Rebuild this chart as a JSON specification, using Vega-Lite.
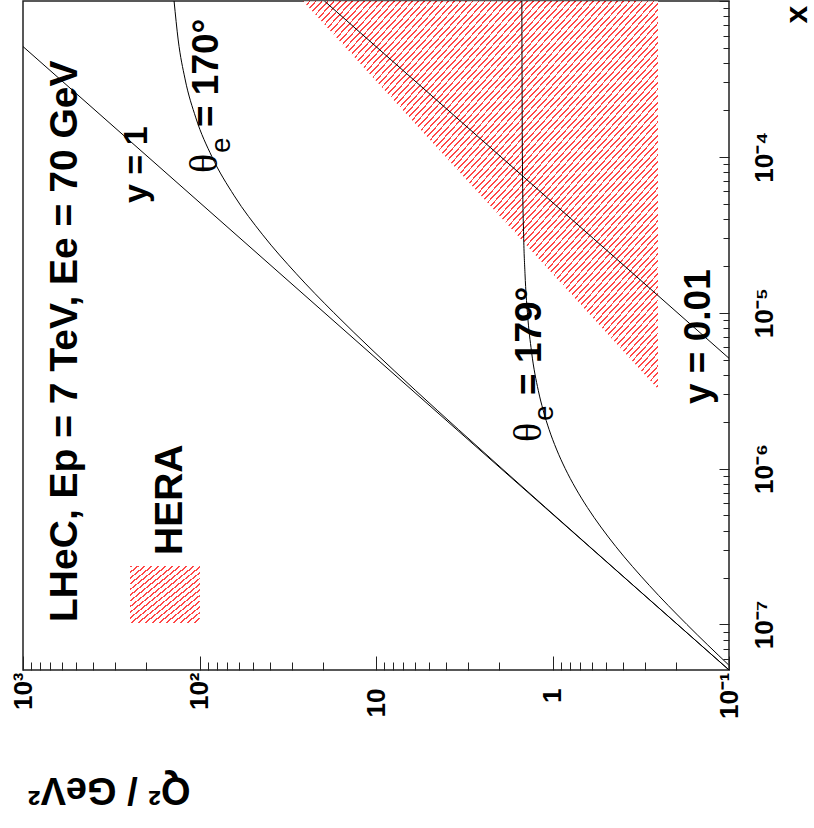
{
"$schema":"https://vega.github.io/schema/vega-lite/v6.json",
"width":706,"height":669,"autosize":"none",
"padding":{"left":23,"top":1,"right":85,"bottom":158},
"background":"white",
"config":{"view":{"stroke":"#222","strokeWidth":1.5}},
"encoding":{
 "x":{"field":"Q2","type":"quantitative","scale":{"type":"log","domain":[0.1,1000],"reverse":true,"nice":false},
  "axis":{"orient":"bottom","values":[0.1,0.2,0.3,0.4,0.5,0.6,0.7,0.8,0.9,1,2,3,4,5,6,7,8,9,10,20,30,40,50,60,70,80,90,100,200,300,400,500,600,700,800,900,1000],
   "domain":false,"grid":false,"tickColor":"#222","tickWidth":1,
   "tickSize":{"condition":{"test":"abs(log(datum.value)/LN10-round(log(datum.value)/LN10))<0.001","value":-14},"value":-8},
   "labelExpr":"datum.value==1000?'10³':datum.value==100?'10²':datum.value==10?'10':datum.value==1?'1':datum.value==0.1?'10⁻¹':''",
   "labelAngle":270,"labelAlign":"right","labelBaseline":"middle",
   "labelPadding":{"condition":{"test":"datum.value==1||datum.value==10","value":32},"value":16},
   "labelFont":"Liberation Sans","labelFontWeight":"bold","labelFontSize":26,"labelColor":"black",
   "labelOverlap":false,"labelFlush":false,"labelBound":false,
   "title":"Q² / GeV²","titleAngle":180,"titleX":167,"titleY":107,"titleAlign":"left","titleBaseline":"alphabetic",
   "titleFont":"Liberation Sans","titleFontWeight":"bold","titleFontSize":38,"titleColor":"black"}},
 "y":{"field":"x","type":"quantitative","scale":{"type":"log","domain":[5.1e-8,0.001],"nice":false},
  "axis":{"orient":"right","values":[6e-8,7e-8,8e-8,9e-8,1e-7,2e-7,3e-7,4e-7,5e-7,6e-7,7e-7,8e-7,9e-7,1e-6,2e-6,3e-6,4e-6,5e-6,6e-6,7e-6,8e-6,9e-6,1e-5,2e-5,3e-5,4e-5,5e-5,6e-5,7e-5,8e-5,9e-5,1e-4,2e-4,3e-4,4e-4,5e-4,6e-4,7e-4,8e-4,9e-4,0.001],
   "domain":false,"grid":false,"tickColor":"#222","tickWidth":1,
   "tickSize":{"condition":{"test":"abs(log(datum.value)/LN10-round(log(datum.value)/LN10))<0.001","value":-10},"value":-6},
   "labelExpr":"datum.value==1e-4?'10⁻⁴':datum.value==1e-5?'10⁻⁵':datum.value==1e-6?'10⁻⁶':datum.value==1e-7?'10⁻⁷':''",
   "labelAngle":270,"labelAlign":"center","labelBaseline":"alphabetic","labelPadding":53,
   "labelFont":"Liberation Sans","labelFontWeight":"bold","labelFontSize":26,"labelColor":"black",
   "labelOverlap":false,"labelFlush":false,"labelBound":false,
   "title":"x","titleAngle":270,"titleX":84,"titleY":22,"titleAlign":"left","titleBaseline":"bottom",
   "titleFont":"Liberation Sans","titleFontWeight":"bold","titleFontSize":32,"titleColor":"black"}}
},
"layer":[
 {"data":{"values":[{"Q2":25.92,"x":0.001,"x2":0.001},{"Q2":0.2525,"x":3.24e-6,"x2":0.001}]},
  "mark":{"type":"area","opacity":0.72,"fill":{"gradient":"linear","x1":0,"y1":0,"x2":1,"y2":1,"stops":[
{"offset":0,"color":"#f00"},{"offset":0.0025,"color":"#f00"},{"offset":0.0025,"color":"#fff"},{"offset":0.0085,"color":"#fff"},
{"offset":0.0085,"color":"#f00"},{"offset":0.011,"color":"#f00"},{"offset":0.011,"color":"#fff"},{"offset":0.017,"color":"#fff"},
{"offset":0.017,"color":"#f00"},{"offset":0.0195,"color":"#f00"},{"offset":0.0195,"color":"#fff"},{"offset":0.0255,"color":"#fff"},
{"offset":0.0255,"color":"#f00"},{"offset":0.028,"color":"#f00"},{"offset":0.028,"color":"#fff"},{"offset":0.034,"color":"#fff"},
{"offset":0.034,"color":"#f00"},{"offset":0.0365,"color":"#f00"},{"offset":0.0365,"color":"#fff"},{"offset":0.0425,"color":"#fff"},
{"offset":0.0425,"color":"#f00"},{"offset":0.045,"color":"#f00"},{"offset":0.045,"color":"#fff"},{"offset":0.051,"color":"#fff"},
{"offset":0.051,"color":"#f00"},{"offset":0.0535,"color":"#f00"},{"offset":0.0535,"color":"#fff"},{"offset":0.0595,"color":"#fff"},
{"offset":0.0595,"color":"#f00"},{"offset":0.062,"color":"#f00"},{"offset":0.062,"color":"#fff"},{"offset":0.068,"color":"#fff"},
{"offset":0.068,"color":"#f00"},{"offset":0.0705,"color":"#f00"},{"offset":0.0705,"color":"#fff"},{"offset":0.0765,"color":"#fff"},
{"offset":0.0765,"color":"#f00"},{"offset":0.079,"color":"#f00"},{"offset":0.079,"color":"#fff"},{"offset":0.085,"color":"#fff"},
{"offset":0.085,"color":"#f00"},{"offset":0.0875,"color":"#f00"},{"offset":0.0875,"color":"#fff"},{"offset":0.0935,"color":"#fff"},
{"offset":0.0935,"color":"#f00"},{"offset":0.096,"color":"#f00"},{"offset":0.096,"color":"#fff"},{"offset":0.102,"color":"#fff"},
{"offset":0.102,"color":"#f00"},{"offset":0.1045,"color":"#f00"},{"offset":0.1045,"color":"#fff"},{"offset":0.1105,"color":"#fff"},
{"offset":0.1105,"color":"#f00"},{"offset":0.113,"color":"#f00"},{"offset":0.113,"color":"#fff"},{"offset":0.119,"color":"#fff"},
{"offset":0.119,"color":"#f00"},{"offset":0.1215,"color":"#f00"},{"offset":0.1215,"color":"#fff"},{"offset":0.1275,"color":"#fff"},
{"offset":0.1275,"color":"#f00"},{"offset":0.13,"color":"#f00"},{"offset":0.13,"color":"#fff"},{"offset":0.136,"color":"#fff"},
{"offset":0.136,"color":"#f00"},{"offset":0.1385,"color":"#f00"},{"offset":0.1385,"color":"#fff"},{"offset":0.1445,"color":"#fff"},
{"offset":0.1445,"color":"#f00"},{"offset":0.147,"color":"#f00"},{"offset":0.147,"color":"#fff"},{"offset":0.153,"color":"#fff"},
{"offset":0.153,"color":"#f00"},{"offset":0.1555,"color":"#f00"},{"offset":0.1555,"color":"#fff"},{"offset":0.1615,"color":"#fff"},
{"offset":0.1615,"color":"#f00"},{"offset":0.164,"color":"#f00"},{"offset":0.164,"color":"#fff"},{"offset":0.17,"color":"#fff"},
{"offset":0.17,"color":"#f00"},{"offset":0.1725,"color":"#f00"},{"offset":0.1725,"color":"#fff"},{"offset":0.1785,"color":"#fff"},
{"offset":0.1785,"color":"#f00"},{"offset":0.181,"color":"#f00"},{"offset":0.181,"color":"#fff"},{"offset":0.187,"color":"#fff"},
{"offset":0.187,"color":"#f00"},{"offset":0.1895,"color":"#f00"},{"offset":0.1895,"color":"#fff"},{"offset":0.1955,"color":"#fff"},
{"offset":0.1955,"color":"#f00"},{"offset":0.198,"color":"#f00"},{"offset":0.198,"color":"#fff"},{"offset":0.204,"color":"#fff"},
{"offset":0.204,"color":"#f00"},{"offset":0.2065,"color":"#f00"},{"offset":0.2065,"color":"#fff"},{"offset":0.2125,"color":"#fff"},
{"offset":0.2125,"color":"#f00"},{"offset":0.215,"color":"#f00"},{"offset":0.215,"color":"#fff"},{"offset":0.221,"color":"#fff"},
{"offset":0.221,"color":"#f00"},{"offset":0.2235,"color":"#f00"},{"offset":0.2235,"color":"#fff"},{"offset":0.2295,"color":"#fff"},
{"offset":0.2295,"color":"#f00"},{"offset":0.232,"color":"#f00"},{"offset":0.232,"color":"#fff"},{"offset":0.238,"color":"#fff"},
{"offset":0.238,"color":"#f00"},{"offset":0.2405,"color":"#f00"},{"offset":0.2405,"color":"#fff"},{"offset":0.2465,"color":"#fff"},
{"offset":0.2465,"color":"#f00"},{"offset":0.249,"color":"#f00"},{"offset":0.249,"color":"#fff"},{"offset":0.255,"color":"#fff"},
{"offset":0.255,"color":"#f00"},{"offset":0.2575,"color":"#f00"},{"offset":0.2575,"color":"#fff"},{"offset":0.2635,"color":"#fff"},
{"offset":0.2635,"color":"#f00"},{"offset":0.266,"color":"#f00"},{"offset":0.266,"color":"#fff"},{"offset":0.272,"color":"#fff"},
{"offset":0.272,"color":"#f00"},{"offset":0.2745,"color":"#f00"},{"offset":0.2745,"color":"#fff"},{"offset":0.2805,"color":"#fff"},
{"offset":0.2805,"color":"#f00"},{"offset":0.283,"color":"#f00"},{"offset":0.283,"color":"#fff"},{"offset":0.289,"color":"#fff"},
{"offset":0.289,"color":"#f00"},{"offset":0.2915,"color":"#f00"},{"offset":0.2915,"color":"#fff"},{"offset":0.2975,"color":"#fff"},
{"offset":0.2975,"color":"#f00"},{"offset":0.3,"color":"#f00"},{"offset":0.3,"color":"#fff"},{"offset":0.306,"color":"#fff"},
{"offset":0.306,"color":"#f00"},{"offset":0.3085,"color":"#f00"},{"offset":0.3085,"color":"#fff"},{"offset":0.3145,"color":"#fff"},
{"offset":0.3145,"color":"#f00"},{"offset":0.317,"color":"#f00"},{"offset":0.317,"color":"#fff"},{"offset":0.323,"color":"#fff"},
{"offset":0.323,"color":"#f00"},{"offset":0.3255,"color":"#f00"},{"offset":0.3255,"color":"#fff"},{"offset":0.3315,"color":"#fff"},
{"offset":0.3315,"color":"#f00"},{"offset":0.334,"color":"#f00"},{"offset":0.334,"color":"#fff"},{"offset":0.34,"color":"#fff"},
{"offset":0.34,"color":"#f00"},{"offset":0.3425,"color":"#f00"},{"offset":0.3425,"color":"#fff"},{"offset":0.3485,"color":"#fff"},
{"offset":0.3485,"color":"#f00"},{"offset":0.351,"color":"#f00"},{"offset":0.351,"color":"#fff"},{"offset":0.357,"color":"#fff"},
{"offset":0.357,"color":"#f00"},{"offset":0.3595,"color":"#f00"},{"offset":0.3595,"color":"#fff"},{"offset":0.3655,"color":"#fff"},
{"offset":0.3655,"color":"#f00"},{"offset":0.368,"color":"#f00"},{"offset":0.368,"color":"#fff"},{"offset":0.374,"color":"#fff"},
{"offset":0.374,"color":"#f00"},{"offset":0.3765,"color":"#f00"},{"offset":0.3765,"color":"#fff"},{"offset":0.3825,"color":"#fff"},
{"offset":0.3825,"color":"#f00"},{"offset":0.385,"color":"#f00"},{"offset":0.385,"color":"#fff"},{"offset":0.391,"color":"#fff"},
{"offset":0.391,"color":"#f00"},{"offset":0.3935,"color":"#f00"},{"offset":0.3935,"color":"#fff"},{"offset":0.3995,"color":"#fff"},
{"offset":0.3995,"color":"#f00"},{"offset":0.402,"color":"#f00"},{"offset":0.402,"color":"#fff"},{"offset":0.408,"color":"#fff"},
{"offset":0.408,"color":"#f00"},{"offset":0.4105,"color":"#f00"},{"offset":0.4105,"color":"#fff"},{"offset":0.4165,"color":"#fff"},
{"offset":0.4165,"color":"#f00"},{"offset":0.419,"color":"#f00"},{"offset":0.419,"color":"#fff"},{"offset":0.425,"color":"#fff"},
{"offset":0.425,"color":"#f00"},{"offset":0.4275,"color":"#f00"},{"offset":0.4275,"color":"#fff"},{"offset":0.4335,"color":"#fff"},
{"offset":0.4335,"color":"#f00"},{"offset":0.436,"color":"#f00"},{"offset":0.436,"color":"#fff"},{"offset":0.442,"color":"#fff"},
{"offset":0.442,"color":"#f00"},{"offset":0.4445,"color":"#f00"},{"offset":0.4445,"color":"#fff"},{"offset":0.4505,"color":"#fff"},
{"offset":0.4505,"color":"#f00"},{"offset":0.453,"color":"#f00"},{"offset":0.453,"color":"#fff"},{"offset":0.459,"color":"#fff"},
{"offset":0.459,"color":"#f00"},{"offset":0.4615,"color":"#f00"},{"offset":0.4615,"color":"#fff"},{"offset":0.4675,"color":"#fff"},
{"offset":0.4675,"color":"#f00"},{"offset":0.47,"color":"#f00"},{"offset":0.47,"color":"#fff"},{"offset":0.476,"color":"#fff"},
{"offset":0.476,"color":"#f00"},{"offset":0.4785,"color":"#f00"},{"offset":0.4785,"color":"#fff"},{"offset":0.4845,"color":"#fff"},
{"offset":0.4845,"color":"#f00"},{"offset":0.487,"color":"#f00"},{"offset":0.487,"color":"#fff"},{"offset":0.493,"color":"#fff"},
{"offset":0.493,"color":"#f00"},{"offset":0.4955,"color":"#f00"},{"offset":0.4955,"color":"#fff"},{"offset":0.5015,"color":"#fff"},
{"offset":0.5015,"color":"#f00"},{"offset":0.504,"color":"#f00"},{"offset":0.504,"color":"#fff"},{"offset":0.51,"color":"#fff"},
{"offset":0.51,"color":"#f00"},{"offset":0.5125,"color":"#f00"},{"offset":0.5125,"color":"#fff"},{"offset":0.5185,"color":"#fff"},
{"offset":0.5185,"color":"#f00"},{"offset":0.521,"color":"#f00"},{"offset":0.521,"color":"#fff"},{"offset":0.527,"color":"#fff"},
{"offset":0.527,"color":"#f00"},{"offset":0.5295,"color":"#f00"},{"offset":0.5295,"color":"#fff"},{"offset":0.5355,"color":"#fff"},
{"offset":0.5355,"color":"#f00"},{"offset":0.538,"color":"#f00"},{"offset":0.538,"color":"#fff"},{"offset":0.544,"color":"#fff"},
{"offset":0.544,"color":"#f00"},{"offset":0.5465,"color":"#f00"},{"offset":0.5465,"color":"#fff"},{"offset":0.5525,"color":"#fff"},
{"offset":0.5525,"color":"#f00"},{"offset":0.555,"color":"#f00"},{"offset":0.555,"color":"#fff"},{"offset":0.561,"color":"#fff"},
{"offset":0.561,"color":"#f00"},{"offset":0.5635,"color":"#f00"},{"offset":0.5635,"color":"#fff"},{"offset":0.5695,"color":"#fff"},
{"offset":0.5695,"color":"#f00"},{"offset":0.572,"color":"#f00"},{"offset":0.572,"color":"#fff"},{"offset":0.578,"color":"#fff"},
{"offset":0.578,"color":"#f00"},{"offset":0.5805,"color":"#f00"},{"offset":0.5805,"color":"#fff"},{"offset":0.5865,"color":"#fff"},
{"offset":0.5865,"color":"#f00"},{"offset":0.589,"color":"#f00"},{"offset":0.589,"color":"#fff"},{"offset":0.595,"color":"#fff"},
{"offset":0.595,"color":"#f00"},{"offset":0.5975,"color":"#f00"},{"offset":0.5975,"color":"#fff"},{"offset":0.6035,"color":"#fff"},
{"offset":0.6035,"color":"#f00"},{"offset":0.606,"color":"#f00"},{"offset":0.606,"color":"#fff"},{"offset":0.612,"color":"#fff"},
{"offset":0.612,"color":"#f00"},{"offset":0.6145,"color":"#f00"},{"offset":0.6145,"color":"#fff"},{"offset":0.6205,"color":"#fff"},
{"offset":0.6205,"color":"#f00"},{"offset":0.623,"color":"#f00"},{"offset":0.623,"color":"#fff"},{"offset":0.629,"color":"#fff"},
{"offset":0.629,"color":"#f00"},{"offset":0.6315,"color":"#f00"},{"offset":0.6315,"color":"#fff"},{"offset":0.6375,"color":"#fff"},
{"offset":0.6375,"color":"#f00"},{"offset":0.64,"color":"#f00"},{"offset":0.64,"color":"#fff"},{"offset":0.646,"color":"#fff"},
{"offset":0.646,"color":"#f00"},{"offset":0.6485,"color":"#f00"},{"offset":0.6485,"color":"#fff"},{"offset":0.6545,"color":"#fff"},
{"offset":0.6545,"color":"#f00"},{"offset":0.657,"color":"#f00"},{"offset":0.657,"color":"#fff"},{"offset":0.663,"color":"#fff"},
{"offset":0.663,"color":"#f00"},{"offset":0.6655,"color":"#f00"},{"offset":0.6655,"color":"#fff"},{"offset":0.6715,"color":"#fff"},
{"offset":0.6715,"color":"#f00"},{"offset":0.674,"color":"#f00"},{"offset":0.674,"color":"#fff"},{"offset":0.68,"color":"#fff"},
{"offset":0.68,"color":"#f00"},{"offset":0.6825,"color":"#f00"},{"offset":0.6825,"color":"#fff"},{"offset":0.6885,"color":"#fff"},
{"offset":0.6885,"color":"#f00"},{"offset":0.691,"color":"#f00"},{"offset":0.691,"color":"#fff"},{"offset":0.697,"color":"#fff"},
{"offset":0.697,"color":"#f00"},{"offset":0.6995,"color":"#f00"},{"offset":0.6995,"color":"#fff"},{"offset":0.7055,"color":"#fff"},
{"offset":0.7055,"color":"#f00"},{"offset":0.708,"color":"#f00"},{"offset":0.708,"color":"#fff"},{"offset":0.714,"color":"#fff"},
{"offset":0.714,"color":"#f00"},{"offset":0.7165,"color":"#f00"},{"offset":0.7165,"color":"#fff"},{"offset":0.7225,"color":"#fff"},
{"offset":0.7225,"color":"#f00"},{"offset":0.725,"color":"#f00"},{"offset":0.725,"color":"#fff"},{"offset":0.731,"color":"#fff"},
{"offset":0.731,"color":"#f00"},{"offset":0.7335,"color":"#f00"},{"offset":0.7335,"color":"#fff"},{"offset":0.7395,"color":"#fff"},
{"offset":0.7395,"color":"#f00"},{"offset":0.742,"color":"#f00"},{"offset":0.742,"color":"#fff"},{"offset":0.748,"color":"#fff"},
{"offset":0.748,"color":"#f00"},{"offset":0.7505,"color":"#f00"},{"offset":0.7505,"color":"#fff"},{"offset":0.7565,"color":"#fff"},
{"offset":0.7565,"color":"#f00"},{"offset":0.759,"color":"#f00"},{"offset":0.759,"color":"#fff"},{"offset":0.765,"color":"#fff"},
{"offset":0.765,"color":"#f00"},{"offset":0.7675,"color":"#f00"},{"offset":0.7675,"color":"#fff"},{"offset":0.7735,"color":"#fff"},
{"offset":0.7735,"color":"#f00"},{"offset":0.776,"color":"#f00"},{"offset":0.776,"color":"#fff"},{"offset":0.782,"color":"#fff"},
{"offset":0.782,"color":"#f00"},{"offset":0.7845,"color":"#f00"},{"offset":0.7845,"color":"#fff"},{"offset":0.7905,"color":"#fff"},
{"offset":0.7905,"color":"#f00"},{"offset":0.793,"color":"#f00"},{"offset":0.793,"color":"#fff"},{"offset":0.799,"color":"#fff"},
{"offset":0.799,"color":"#f00"},{"offset":0.8015,"color":"#f00"},{"offset":0.8015,"color":"#fff"},{"offset":0.8075,"color":"#fff"},
{"offset":0.8075,"color":"#f00"},{"offset":0.81,"color":"#f00"},{"offset":0.81,"color":"#fff"},{"offset":0.816,"color":"#fff"},
{"offset":0.816,"color":"#f00"},{"offset":0.8185,"color":"#f00"},{"offset":0.8185,"color":"#fff"},{"offset":0.8245,"color":"#fff"},
{"offset":0.8245,"color":"#f00"},{"offset":0.827,"color":"#f00"},{"offset":0.827,"color":"#fff"},{"offset":0.833,"color":"#fff"},
{"offset":0.833,"color":"#f00"},{"offset":0.8355,"color":"#f00"},{"offset":0.8355,"color":"#fff"},{"offset":0.8415,"color":"#fff"},
{"offset":0.8415,"color":"#f00"},{"offset":0.844,"color":"#f00"},{"offset":0.844,"color":"#fff"},{"offset":0.85,"color":"#fff"},
{"offset":0.85,"color":"#f00"},{"offset":0.8525,"color":"#f00"},{"offset":0.8525,"color":"#fff"},{"offset":0.8585,"color":"#fff"},
{"offset":0.8585,"color":"#f00"},{"offset":0.861,"color":"#f00"},{"offset":0.861,"color":"#fff"},{"offset":0.867,"color":"#fff"},
{"offset":0.867,"color":"#f00"},{"offset":0.8695,"color":"#f00"},{"offset":0.8695,"color":"#fff"},{"offset":0.8755,"color":"#fff"},
{"offset":0.8755,"color":"#f00"},{"offset":0.878,"color":"#f00"},{"offset":0.878,"color":"#fff"},{"offset":0.884,"color":"#fff"},
{"offset":0.884,"color":"#f00"},{"offset":0.8865,"color":"#f00"},{"offset":0.8865,"color":"#fff"},{"offset":0.8925,"color":"#fff"},
{"offset":0.8925,"color":"#f00"},{"offset":0.895,"color":"#f00"},{"offset":0.895,"color":"#fff"},{"offset":0.901,"color":"#fff"},
{"offset":0.901,"color":"#f00"},{"offset":0.9035,"color":"#f00"},{"offset":0.9035,"color":"#fff"},{"offset":0.9095,"color":"#fff"},
{"offset":0.9095,"color":"#f00"},{"offset":0.912,"color":"#f00"},{"offset":0.912,"color":"#fff"},{"offset":0.918,"color":"#fff"},
{"offset":0.918,"color":"#f00"},{"offset":0.9205,"color":"#f00"},{"offset":0.9205,"color":"#fff"},{"offset":0.9265,"color":"#fff"},
{"offset":0.9265,"color":"#f00"},{"offset":0.929,"color":"#f00"},{"offset":0.929,"color":"#fff"},{"offset":0.935,"color":"#fff"},
{"offset":0.935,"color":"#f00"},{"offset":0.9375,"color":"#f00"},{"offset":0.9375,"color":"#fff"},{"offset":0.9435,"color":"#fff"},
{"offset":0.9435,"color":"#f00"},{"offset":0.946,"color":"#f00"},{"offset":0.946,"color":"#fff"},{"offset":0.952,"color":"#fff"},
{"offset":0.952,"color":"#f00"},{"offset":0.9545,"color":"#f00"},{"offset":0.9545,"color":"#fff"},{"offset":0.9605,"color":"#fff"},
{"offset":0.9605,"color":"#f00"},{"offset":0.963,"color":"#f00"},{"offset":0.963,"color":"#fff"},{"offset":0.969,"color":"#fff"},
{"offset":0.969,"color":"#f00"},{"offset":0.9715,"color":"#f00"},{"offset":0.9715,"color":"#fff"},{"offset":0.9775,"color":"#fff"},
{"offset":0.9775,"color":"#f00"},{"offset":0.98,"color":"#f00"},{"offset":0.98,"color":"#fff"},{"offset":0.986,"color":"#fff"},
{"offset":0.986,"color":"#f00"},{"offset":0.9885,"color":"#f00"},{"offset":0.9885,"color":"#fff"},{"offset":0.9945,"color":"#fff"},
{"offset":0.9945,"color":"#f00"},{"offset":0.997,"color":"#f00"},{"offset":0.997,"color":"#fff"},{"offset":1,"color":"#fff"}
]}},
  "encoding":{"y2":{"field":"x2"}}},
 {"data":{"values":[{"Q2":247.6,"Q2b":99.4,"x":2.37e-7,"x2":1.022e-7}]},
  "mark":{"type":"rect","opacity":0.72,"fill":{"gradient":"linear","x1":0,"y1":0,"x2":1,"y2":1,"stops":[
{"offset":0,"color":"#f00"},{"offset":0.015,"color":"#f00"},{"offset":0.015,"color":"#fff"},{"offset":0.05,"color":"#fff"},
{"offset":0.05,"color":"#f00"},{"offset":0.065,"color":"#f00"},{"offset":0.065,"color":"#fff"},{"offset":0.1,"color":"#fff"},
{"offset":0.1,"color":"#f00"},{"offset":0.115,"color":"#f00"},{"offset":0.115,"color":"#fff"},{"offset":0.15,"color":"#fff"},
{"offset":0.15,"color":"#f00"},{"offset":0.165,"color":"#f00"},{"offset":0.165,"color":"#fff"},{"offset":0.2,"color":"#fff"},
{"offset":0.2,"color":"#f00"},{"offset":0.215,"color":"#f00"},{"offset":0.215,"color":"#fff"},{"offset":0.25,"color":"#fff"},
{"offset":0.25,"color":"#f00"},{"offset":0.265,"color":"#f00"},{"offset":0.265,"color":"#fff"},{"offset":0.3,"color":"#fff"},
{"offset":0.3,"color":"#f00"},{"offset":0.315,"color":"#f00"},{"offset":0.315,"color":"#fff"},{"offset":0.35,"color":"#fff"},
{"offset":0.35,"color":"#f00"},{"offset":0.365,"color":"#f00"},{"offset":0.365,"color":"#fff"},{"offset":0.4,"color":"#fff"},
{"offset":0.4,"color":"#f00"},{"offset":0.415,"color":"#f00"},{"offset":0.415,"color":"#fff"},{"offset":0.45,"color":"#fff"},
{"offset":0.45,"color":"#f00"},{"offset":0.465,"color":"#f00"},{"offset":0.465,"color":"#fff"},{"offset":0.5,"color":"#fff"},
{"offset":0.5,"color":"#f00"},{"offset":0.515,"color":"#f00"},{"offset":0.515,"color":"#fff"},{"offset":0.55,"color":"#fff"},
{"offset":0.55,"color":"#f00"},{"offset":0.565,"color":"#f00"},{"offset":0.565,"color":"#fff"},{"offset":0.6,"color":"#fff"},
{"offset":0.6,"color":"#f00"},{"offset":0.615,"color":"#f00"},{"offset":0.615,"color":"#fff"},{"offset":0.65,"color":"#fff"},
{"offset":0.65,"color":"#f00"},{"offset":0.665,"color":"#f00"},{"offset":0.665,"color":"#fff"},{"offset":0.7,"color":"#fff"},
{"offset":0.7,"color":"#f00"},{"offset":0.715,"color":"#f00"},{"offset":0.715,"color":"#fff"},{"offset":0.75,"color":"#fff"},
{"offset":0.75,"color":"#f00"},{"offset":0.765,"color":"#f00"},{"offset":0.765,"color":"#fff"},{"offset":0.8,"color":"#fff"},
{"offset":0.8,"color":"#f00"},{"offset":0.815,"color":"#f00"},{"offset":0.815,"color":"#fff"},{"offset":0.85,"color":"#fff"},
{"offset":0.85,"color":"#f00"},{"offset":0.865,"color":"#f00"},{"offset":0.865,"color":"#fff"},{"offset":0.9,"color":"#fff"},
{"offset":0.9,"color":"#f00"},{"offset":0.915,"color":"#f00"},{"offset":0.915,"color":"#fff"},{"offset":0.95,"color":"#fff"},
{"offset":0.95,"color":"#f00"},{"offset":0.965,"color":"#f00"},{"offset":0.965,"color":"#fff"},{"offset":1,"color":"#fff"}
]}},
  "encoding":{"x2":{"field":"Q2b"},"y2":{"field":"x2"}}},
 {"data":{"values":[
  {"c":"y1","x":5.1e-8,"Q2":0.09996},{"c":"y1","x":5.1e-4,"Q2":999.6},
  {"c":"y001","x":0.001,"Q2":19.6},{"c":"y001","x":5.1e-6,"Q2":0.09996},
  {"c":"t170","x":0.001,"Q2":139.34},{"c":"t170","x":5.623e-4,"Q2":132.03},{"c":"t170","x":3.162e-4,"Q2":120.77},{"c":"t170","x":1.778e-4,"Q2":104.86},
  {"c":"t170","x":1e-4,"Q2":84.97},{"c":"t170","x":5.623e-5,"Q2":63.53},{"c":"t170","x":3.162e-5,"Q2":43.86},{"c":"t170","x":1.778e-5,"Q2":28.28},
  {"c":"t170","x":1e-5,"Q2":17.335},{"c":"t170","x":5.623e-6,"Q2":10.266},{"c":"t170","x":3.162e-6,"Q2":5.952},{"c":"t170","x":1.778e-6,"Q2":3.406},
  {"c":"t170","x":1e-6,"Q2":1.9347},{"c":"t170","x":5.623e-7,"Q2":1.0939},{"c":"t170","x":3.162e-7,"Q2":0.6172},{"c":"t170","x":1.778e-7,"Q2":0.3477},
  {"c":"t170","x":1e-7,"Q2":0.19574},{"c":"t170","x":5.1e-8,"Q2":0.09989},
  {"c":"t179","x":0.001,"Q2":1.4916},{"c":"t179","x":1e-4,"Q2":1.4814},{"c":"t179","x":3.162e-5,"Q2":1.4576},{"c":"t179","x":1.778e-5,"Q2":1.4314},
  {"c":"t179","x":1e-5,"Q2":1.3871},{"c":"t179","x":5.623e-6,"Q2":1.3146},{"c":"t179","x":3.162e-6,"Q2":1.203},{"c":"t179","x":2.371e-6,"Q2":1.1298},
  {"c":"t179","x":1.778e-6,"Q2":1.0451},{"c":"t179","x":1.334e-6,"Q2":0.9501},{"c":"t179","x":1e-6,"Q2":0.8474},{"c":"t179","x":7.5e-7,"Q2":0.7406},
  {"c":"t179","x":5.623e-7,"Q2":0.634},{"c":"t179","x":4.217e-7,"Q2":0.532},{"c":"t179","x":3.162e-7,"Q2":0.438},{"c":"t179","x":1.778e-7,"Q2":0.2825},
  {"c":"t179","x":1e-7,"Q2":0.1733},{"c":"t179","x":5.5e-8,"Q2":0.10054}
 ]},
  "mark":{"type":"line","color":"black","strokeWidth":1,"interpolate":"monotone","clip":true},
  "encoding":{"detail":{"field":"c"}}},
 {"data":{"values":[{"t":"LHeC, Ep = 7 TeV, Ee = 70 GeV","Q2":494.3,"x":1.037e-7},{"t":"HERA","Q2":125.7,"x":2.789e-7}]},
  "mark":{"type":"text","angle":270,"align":"left","baseline":"alphabetic","font":"Liberation Sans","fontWeight":"bold","fontSize":39,"color":"black"},
  "encoding":{"text":{"field":"t"}}},
 {"data":{"values":[{"t":"y = 1","Q2":198.4,"x":5.058e-5}]},
  "mark":{"type":"text","angle":270,"align":"left","baseline":"alphabetic","font":"Liberation Sans","fontWeight":"bold","fontSize":34,"color":"black"},
  "encoding":{"text":{"field":"t"}}},
 {"data":{"values":[{"t":"y = 0.01","Q2":0.1281,"x":2.596e-6}]},
  "mark":{"type":"text","angle":270,"align":"left","baseline":"alphabetic","font":"Liberation Sans","fontWeight":"bold","fontSize":37,"color":"black"},
  "encoding":{"text":{"field":"t"}}},
 {"data":{"values":[{"t":"= 170°","Q2":78.55,"x":1.554e-4},{"t":"= 179°","Q2":1.162,"x":2.965e-6}]},
  "mark":{"type":"text","angle":270,"align":"left","baseline":"alphabetic","font":"Liberation Sans","fontWeight":"bold","fontSize":37,"color":"black"},
  "encoding":{"text":{"field":"t"}}},
 {"data":{"values":[{"t":"θ","Q2":79.6,"x":7.88e-5},{"t":"θ","Q2":1.162,"x":1.482e-6}]},
  "mark":{"type":"text","angle":270,"align":"left","baseline":"alphabetic","font":"Liberation Serif","fontSize":40,"color":"black"},
  "encoding":{"text":{"field":"t"}}},
 {"data":{"values":[{"t":"e","Q2":67.2,"x":1.0588e-4},{"t":"e","Q2":0.9935,"x":2.02e-6}]},
  "mark":{"type":"text","angle":270,"align":"left","baseline":"alphabetic","font":"Liberation Sans","fontSize":28,"color":"black"},
  "encoding":{"text":{"field":"t"}}}
]
}
